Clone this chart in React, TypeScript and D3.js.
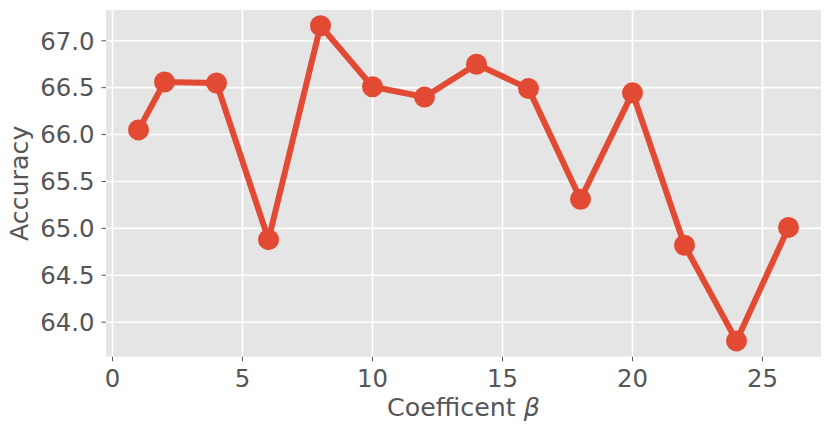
import React from "react";
import * as d3 from "d3";

const betas = [1, 2, 4, 6, 8, 10, 12, 14, 16, 18, 20, 22, 24, 26];
const accuracy = [66.05, 66.56, 66.55, 64.88, 67.16, 66.51, 66.40, 66.75, 66.49, 65.31, 66.445, 64.82, 63.80, 65.01];
const xTicks = [0, 5, 10, 15, 20, 25];
const yTicks = [64.0, 64.5, 65.0, 65.5, 66.0, 66.5, 67.0];

const W = 831;
const H = 433;
const L = 106, R = 821, T = 10, B = 356.7;
const COLOR = "#E24A33";
const FONT = "DejaVu Sans, sans-serif";

export default function App() {
  const x = d3.scaleLinear().domain([-0.25, 27.25]).range([L, R]);
  const y = d3.scaleLinear().domain([63.632, 67.328]).range([B, T]);
  const line = d3
    .line<number>()
    .x((_, i) => x(betas[i]))
    .y((d) => y(d));
  return (
    <svg
      width={W}
      height={H}
      style={{ position: "absolute", left: 0, top: 0, background: "#fff" }}
      fontFamily={FONT}
    >
      <rect x={L} y={T} width={R - L} height={B - T} fill="#E5E5E5" />
      {xTicks.map((t) => (
        <line key={"gx" + t} x1={x(t)} x2={x(t)} y1={T} y2={B} stroke="#fff" strokeWidth={1.6} />
      ))}
      {yTicks.map((t) => (
        <line key={"gy" + t} x1={L} x2={R} y1={y(t)} y2={y(t)} stroke="#fff" strokeWidth={1.6} />
      ))}
      <path d={line(accuracy) || ""} fill="none" stroke={COLOR} strokeWidth={6} strokeLinejoin="round" />
      {accuracy.map((v, i) => (
        <circle key={i} cx={x(betas[i])} cy={y(v)} r={10.5} fill={COLOR} />
      ))}
      {xTicks.map((t) => (
        <g key={"tx" + t}>
          <line x1={x(t)} x2={x(t)} y1={B} y2={B + 4.5} stroke="#555" strokeWidth={1} />
          <text x={x(t)} y={386.7} textAnchor="middle" fontSize={24.4} fill="#555">
            {t}
          </text>
        </g>
      ))}
      {yTicks.map((t) => (
        <g key={"ty" + t}>
          <line x1={L - 4.5} x2={L} y1={y(t)} y2={y(t)} stroke="#555" strokeWidth={1} />
          <text x={94.5} y={y(t)} dy="0.36em" textAnchor="end" fontSize={24.4} fill="#555">
            {t.toFixed(1)}
          </text>
        </g>
      ))}
      <text x={(L + R) / 2} y={416} textAnchor="middle" fontSize={25.3} fill="#555">
        Coefficent <tspan fontStyle="italic">β</tspan>
      </text>
      <text
        transform={`translate(28, ${(T + B) / 2}) rotate(-90)`}
        textAnchor="middle"
        fontSize={25.3}
        fill="#555"
      >
        Accuracy
      </text>
    </svg>
  );
}
